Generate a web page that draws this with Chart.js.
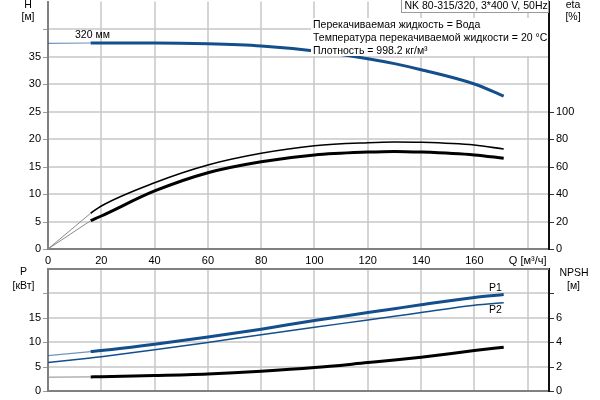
<!DOCTYPE html>
<html><head><meta charset="utf-8">
<script src="https://cdn.jsdelivr.net/npm/chart.js@4.4.1/dist/chart.umd.min.js"></script>
<style>
html,body{margin:0;padding:0;background:#fff;}
canvas{position:absolute;left:0;}
</style></head><body>
<canvas id="c1" width="600" height="268" style="top:0"></canvas>
<canvas id="c2" width="600" height="138" style="top:262px"></canvas>
<script>
// ---- data ----
const flow      = [0, 16, 20, 40, 60, 80, 100, 120, 130, 140, 160, 171];
const head      = [37.4, 37.45, 37.45, 37.45, 37.3, 36.9, 36.0, 34.6, 33.7, 32.6, 30.0, 27.8];
const etaPump   = [0, 26, 31.3, 48.2, 61.1, 69.6, 75.1, 77.3, 77.8, 77.6, 75.6, 72.7];
const etaTotal  = [0, 20.6, 24, 42.2, 55.5, 63.5, 68.4, 70.5, 71.0, 70.5, 68.4, 66];
const powerP1   = [7.23, 8.05, 8.26, 9.56, 11.0, 12.6, 14.4, 16.0, 16.8, 17.6, 19.1, 19.7];
const powerP2   = [5.8, 6.75, 7.0, 8.4, 9.9, 11.5, 13.0, 14.5, 15.25, 16.0, 17.5, 18.0];
const npsh      = [1.13, 1.15, 1.17, 1.26, 1.39, 1.61, 1.91, 2.32, 2.53, 2.76, 3.30, 3.58];
const qTickValues = [0, 20, 40, 60, 80, 100, 120, 140, 160, 180];
const qTickLabels = ['0', '20', '40', '60', '80', '100', '120', '140', '160', 'Q [м³/ч]'];
const hTicks    = [0, 5, 10, 15, 20, 25, 30, 35, 40];
const etaTicks  = [0, 20, 40, 60, 80, 100];
const pTicks    = [0, 5, 10, 15, 20];
const npshTicks = [0, 2, 4, 6, 8];
const infoLines = ['Перекачиваемая жидкость = Вода', 'Температура перекачиваемой жидкости = 20 °C', 'Плотность = 998.2 кг/м³'];
const pumpTitle = 'NK 80-315/320, 3*400 V, 50Hz';
const curveLabel = '320 мм';
const splitIndex = 1; // first point of the main (non-extrapolated) range

const FONT = "'Liberation Sans', Arial, sans-serif";
const TICKFONT = {family: FONT, size: 11};
const BLUE = '#124f8c';
const BLUE_THIN = 'rgba(18,79,140,0.6)';
const GRID = '#c8c8c8';
const AXIS = '#808080';
const TXT = '10.5px ' + FONT;

function pts(arr, from, to) {
  const out = [];
  for (let i = from; i <= to; i++) out.push({x: flow[i], y: arr[i]});
  return out;
}
const last = flow.length - 1;
function pair(arr, axis, color, thinColor, width, thinWidth) {
  return [
    {data: pts(arr, 0, splitIndex), yAxisID: axis, borderColor: thinColor, backgroundColor: thinColor, borderWidth: thinWidth, pointRadius: 0},
    {data: pts(arr, splitIndex, last), yAxisID: axis, borderColor: color, backgroundColor: color, borderWidth: width, pointRadius: 0}
  ];
}
function zeroPad(s) { s.paddingTop = 0; s.paddingBottom = 0; s.paddingLeft = 0; s.paddingRight = 0; }

function xScale(showLabels, height) {
  return {
    type: 'linear', min: 0, max: 188,
    afterBuildTicks: s => { s.ticks = qTickValues.map(v => ({value: v})); },
    afterFit: s => { s.height = height; zeroPad(s); },
    grid: {display: false, drawTicks: false},
    border: {color: AXIS, width: 2},
    ticks: {display: showLabels, padding: 5, maxRotation: 0, autoSkip: false, color: '#000', font: TICKFONT,
      callback: v => qTickLabels[qTickValues.indexOf(v)]}
  };
}
function yScale(pos, max, step, labelMax, width, borderColor) {
  return {
    position: pos, min: 0, max: max,
    afterFit: s => { s.width = width; zeroPad(s); },
    grid: {display: false, drawTicks: true, tickLength: 4},
    border: {color: borderColor, width: 2},
    ticks: {stepSize: step, padding: 3, autoSkip: false, color: '#000', font: TICKFONT,
      callback: v => v <= labelMax ? String(v) : ''}
  };
}

// grid lines and tick marks, positioned through the chart's own scales
function gridPlugin(leftVals, rightVals, topBorder) {
  return {
    id: 'gridMarks',
    beforeDatasetsDraw(chart) {
      const c = chart.ctx, a = chart.chartArea, sx = chart.scales.x, sy = chart.scales.y;
      c.save();
      c.lineWidth = 1.5; c.strokeStyle = GRID;
      c.beginPath();
      qTickValues.forEach(v => {
        if (v === 0) return;
        const x = Math.round(sx.getPixelForValue(v));
        c.moveTo(x, a.top); c.lineTo(x, a.bottom - 1);
      });
      leftVals.forEach(v => {
        if (v === 0) return;
        const y = Math.round(sy.getPixelForValue(v));
        c.moveTo(a.left + 1, y); c.lineTo(a.right - 1, y);
      });
      c.stroke();
      c.restore();
    },
    afterDatasetsDraw(chart) {
      const c = chart.ctx, a = chart.chartArea, sy = chart.scales.y, sy2 = chart.scales.y2;
      c.save();
      c.lineWidth = 1;
      c.strokeStyle = '#9a9a9a';
      c.beginPath();
      leftVals.forEach(v => {
        const y = Math.round(sy.getPixelForValue(v)) + 0.5;
        c.moveTo(a.left - 5, y); c.lineTo(a.left - 1, y);
      });
      c.stroke();
      c.strokeStyle = '#333';
      c.beginPath();
      rightVals.forEach(v => {
        const y = Math.round(sy2.getPixelForValue(v)) + 0.5;
        c.moveTo(a.right + 1, y); c.lineTo(a.right + 5, y);
      });
      c.stroke();
      if (topBorder) {
        c.lineWidth = 2; c.strokeStyle = AXIS;
        c.beginPath(); c.moveTo(a.left - 1, Math.round(a.top)); c.lineTo(a.right, Math.round(a.top)); c.stroke();
      }
      c.restore();
    }
  };
}

const topText = {
  id: 'topText',
  afterDatasetsDraw(chart) {
    const c = chart.ctx;
    c.save();
    c.font = TXT;
    c.textBaseline = 'middle';
    c.fillStyle = '#fff';
    c.fillRect(311, 18, 237, 38);
    c.fillStyle = '#000';
    c.textAlign = 'left';
    infoLines.forEach((t, i) => c.fillText(t, 313, 25.5 + i * 13));
    c.fillStyle = '#fff';
    c.fillRect(401.5, -1, 147, 14);
    c.strokeStyle = '#9a9a9a'; c.lineWidth = 1;
    c.strokeRect(401.5, -1.5, 147, 14);
    c.fillStyle = '#000';
    c.fillText(pumpTitle, 404.5, 6.5);
    c.fillText(curveLabel, 75, 35.5);
    c.textAlign = 'center';
    c.fillText('H', 28, 5);
    c.fillText('[м]', 28, 17);
    c.fillText('eta', 573, 5);
    c.fillText('[%]', 573, 17.5);
    c.restore();
  }
};
const botText = {
  id: 'botText',
  afterDatasetsDraw(chart) {
    const c = chart.ctx;
    c.save();
    c.font = TXT;
    c.textBaseline = 'middle';
    c.fillStyle = '#000';
    c.textAlign = 'left';
    c.fillText('P1', 489, 26.5);
    c.fillText('P2', 489, 48);
    c.textAlign = 'center';
    c.fillText('P', 23.5, 10);
    c.fillText('[кВт]', 23.5, 24);
    c.fillText('NPSH', 574, 11);
    c.fillText('[м]', 573.5, 24);
    c.restore();
  }
};

function opts(padTop, scales) {
  return {
    responsive: false, animation: false, events: [],
    font: {family: FONT, size: 11}, color: '#000',
    plugins: {legend: {display: false}, tooltip: {enabled: false}},
    elements: {line: {cubicInterpolationMode: 'monotone'}},
    layout: {padding: {top: padTop, left: 0, right: 0, bottom: 0}},
    scales: scales
  };
}

new Chart(document.getElementById('c1'), {
  type: 'line',
  data: {datasets: [
    ...pair(etaPump, 'y2', '#000', '#8a8a8a', 1.6, 1),
    ...pair(etaTotal, 'y2', '#000', '#8a8a8a', 3, 1),
    ...pair(head, 'y', BLUE, BLUE_THIN, 3, 1.2)
  ]},
  options: opts(1.5, {
    x: xScale(true, 19),
    y: yScale('left', 45, 5, 35, 48, AXIS),
    y2: yScale('right', 180, 20, 100, 51, '#111')
  }),
  plugins: [gridPlugin(hTicks, etaTicks, false), topText]
});

new Chart(document.getElementById('c2'), {
  type: 'line',
  data: {datasets: [
    ...pair(npsh, 'y2', '#000', '#8a8a8a', 3, 1),
    {data: pts(powerP2, 0, last), yAxisID: 'y', borderColor: BLUE, backgroundColor: BLUE, borderWidth: 1.5, pointRadius: 0},
    ...pair(powerP1, 'y', BLUE, BLUE_THIN, 3, 1.2)
  ]},
  options: opts(6.5, {
    x: xScale(false, 9),
    y: yScale('left', 25, 5, 15, 48, AXIS),
    y2: yScale('right', 10, 2, 6, 51, '#111')
  }),
  plugins: [gridPlugin(pTicks, npshTicks, true), botText]
});
</script>
</body></html>
